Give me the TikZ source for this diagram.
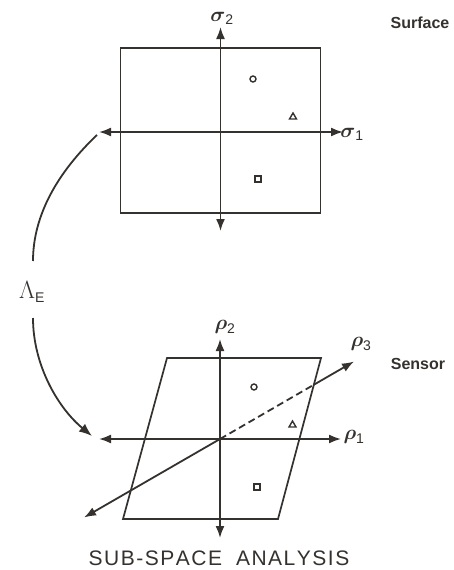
\documentclass[tikz,border=0pt]{standalone}
\usepackage{amsmath}
\usepackage{fontspec}
\setsansfont{Liberation Sans}
\usetikzlibrary{arrows.meta,calc}
\definecolor{ink}{HTML}{35312E}
\begin{document}
\begin{tikzpicture}[x=1pt,y=-1pt,
  ink/.style={draw=ink,line width=1.8pt},
  axis/.style={ink,{Latex[length=12pt,width=9pt]}-{Latex[length=12pt,width=9pt]}},
  frame/.style={draw=ink,line width=1.7pt},
  glyph/.style={draw=ink,line width=1.4pt},
  lbl/.style={text=ink,font=\fontsize{20}{24}\selectfont,inner sep=0pt},
  tag/.style={text=ink,font=\sffamily\bfseries\fontsize{16}{18}\selectfont,inner sep=0pt},
  tipp/.style={-{Latex[length=13pt,width=10pt]}}]
\useasboundingbox (0,0) rectangle (453,570);
% ---- Surface ----
\coordinate (so) at (220.5,132);
\draw[frame] (120.5,48) rectangle (320.5,213);
\coordinate (s2t) at (220.5,27);
\coordinate (s2b) at (220.5,231);
\coordinate (s1l) at (99,132);
\coordinate (s1r) at (343,132);
\draw[axis] (s2b) -- (s2t);
\draw[axis] (s1l) -- (s1r);
\node[lbl] (sig2) at (222,18) {$\boldsymbol{\sigma}_{\mathsf{2}}$};
\node[lbl] (sig1) at (352,134) {$\boldsymbol{\sigma}_{\mathsf{1}}$};
\draw[glyph] (253,79) circle (3pt);
\draw[glyph] (289.5,119) -- (296.5,119) -- (293,113) -- cycle;
\draw[glyph] (255,176) rectangle (261,182);
\node[tag] (surf) at (420,23) {Surface};
% ---- Sensor ----
\coordinate (ro) at (220,439);
\coordinate (pTL) at (167,358);
\coordinate (pTR) at (321,358);
\coordinate (pBR) at (278,519);
\coordinate (pBL) at (123,519);
\draw[frame] (pTL) -- (pTR) -- (pBR) -- (pBL) -- cycle;
\coordinate (r2t) at (220,339);
\coordinate (r2b) at (220,538);
\coordinate (r1l) at (99,439);
\coordinate (r1r) at (341,439);
\coordinate (r3a) at (84,517.5);
\coordinate (r3b) at (354,361.5);
\draw[axis] (r2b) -- (r2t);
\draw[axis] (r1l) -- (r1r);
\coordinate (cut) at (intersection of ro--r3b and pTR--pBR);
\draw[ink,{Latex[length=12pt,width=9pt]}-] (r3a) -- (ro);
\draw[ink,dash pattern=on 7pt off 4pt] (ro) -- (cut);
\draw[ink,-{Latex[length=12pt,width=9pt]}] (cut) -- (r3b);
\node[lbl] (rho2) at (225,327) {$\boldsymbol{\rho}_{\mathsf{2}}$};
\node[lbl] (rho3) at (361,344) {$\boldsymbol{\rho}_{\mathsf{3}}$};
\node[lbl] (rho1) at (354,437) {$\boldsymbol{\rho}_{\mathsf{1}}$};
\draw[glyph] (254,387) circle (3pt);
\draw[glyph] (289,427) -- (296,427) -- (292.5,421) -- cycle;
\draw[glyph] (254,484) rectangle (260,490);
\node[tag] (sens) at (418,364) {Sensor};
% ---- mapping ----
\node[text=ink,inner sep=0pt,anchor=center] (lam) at (32,292)
  {\fontsize{25}{28}\selectfont$\Lambda_{\textsf{\fontsize{14}{16}\selectfont E}}$};
\coordinate (c1) at (97,135);
\coordinate (c2) at (33,261);
\coordinate (c3) at (33,318);
\coordinate (c4) at (92,436);
\draw[ink] (c1) .. controls (58,172) and (33,215) .. (c2);
\draw[ink,tipp] (c3) .. controls (33,365) and (58,408) .. (c4);
% ---- caption ----
\node[text=ink,inner sep=0pt,font=\sffamily\fontsize{21}{24}\selectfont] (cap) at (219,558)
  {S\kern1.5ptU\kern1.5ptB\kern1.5pt-\kern1.5ptS\kern1.5ptP\kern1.5ptA\kern1.5ptC\kern1.5ptE\hspace{14pt}A\kern1.5ptN\kern1.5ptA\kern1.5ptL\kern1.5ptY\kern1.5ptS\kern1.5ptI\kern1.5ptS};
\end{tikzpicture}
\end{document}
